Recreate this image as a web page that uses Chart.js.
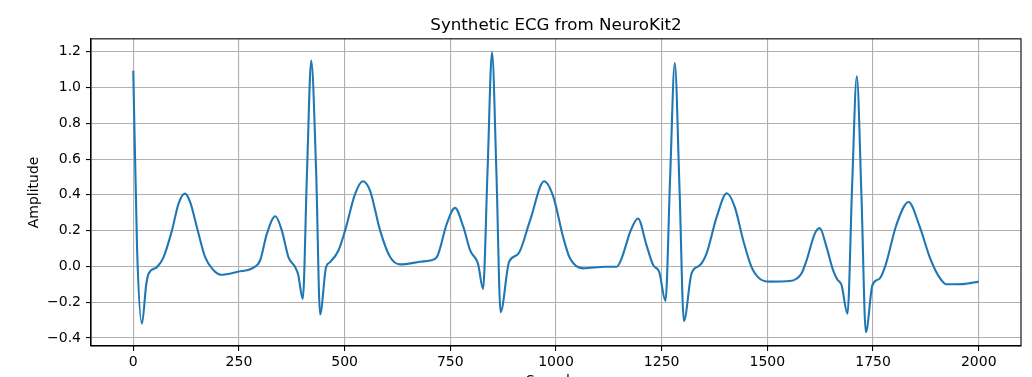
<!DOCTYPE html>
<html>
<head>
<meta charset="utf-8">
<script src="https://cdn.jsdelivr.net/npm/chart.js@4"></script>
<style>
  html, body { margin: 0; padding: 0; background: #fff; overflow: hidden; }
  #wrap { width: 1032px; height: 400px; position: relative; }
</style>
</head>
<body>
<div id="wrap"><canvas id="ecgChart"></canvas></div>
<script>
// samples and amplitude
const sampleX = [
    0, 9, 20.5, 30.5, 36.2, 56, 71.7, 91.4, 107, 122, 134.8, 150.5, 170, 190, 207, 247, 284.4, 300, 316, 336,
    351.5, 367, 383, 390, 401, 411, 421, 432.6, 442, 456, 465.7, 485.4, 501, 524.8, 543, 560, 584, 607.6, 631, 678.5,
    702, 718, 741.6, 761, 781, 797, 812.5, 816, 827.4, 838, 848.7, 859, 869, 889, 911, 938.5, 972, 993.6, 1017, 1033,
    1064.6, 1116, 1143.5, 1155.3, 1165.5, 1175, 1194, 1214, 1230, 1244, 1259, 1270, 1281, 1292, 1302.6, 1320.7, 1340.4, 1356, 1380, 1404,
    1423, 1443, 1462.6, 1482, 1506, 1553, 1569, 1581, 1592.7, 1612, 1624, 1640, 1655.6, 1666, 1675.4, 1689.6, 1700.5, 1711.6, 1722.5, 1733,
    1748.6, 1766, 1780, 1805, 1834, 1860, 1884, 1904, 1923.6, 1963, 2000
];
const amplitude = [
    1.094, 0.1, -0.32, -0.104, -0.041, -0.004, 0.052, 0.2, 0.35, 0.407, 0.358, 0.219, 0.052, -0.022, -0.047, -0.03, -0.007, 0.033, 0.182, 0.28,
    0.2, 0.052, -0.004, -0.045, -0.182, 0.53, 1.15, 0.53, -0.268, -0.005, 0.024, 0.089, 0.2, 0.405, 0.476, 0.424, 0.2, 0.052, 0.011, 0.026,
    0.033, 0.052, 0.238, 0.327, 0.219, 0.089, 0.033, 0.01, -0.126, 0.53, 1.197, 0.53, -0.256, 0.025, 0.071, 0.256, 0.476, 0.39, 0.163, 0.045,
    -0.011, -0.002, -0.002, 0.045, 0.119, 0.19, 0.268, 0.119, 0.007, -0.03, -0.193, 0.5, 1.137, 0.45, -0.305, -0.039, 0.006, 0.071, 0.275, 0.409,
    0.331, 0.145, -0.004, -0.069, -0.085, -0.082, -0.069, -0.039, 0.033, 0.182, 0.214, 0.108, -0.022, -0.075, -0.104, -0.264, 0.45, 1.063, 0.4, -0.368,
    -0.104, -0.067, 0.01, 0.23, 0.36, 0.225, 0.052, -0.05, -0.1, -0.099, -0.085
];
const xTicks = [0, 250, 500, 750, 1000, 1250, 1500, 1750, 2000];
const yTicks = [-0.4, -0.2, 0.0, 0.2, 0.4, 0.6, 0.8, 1.0, 1.2];

const points = sampleX.map((x, i) => ({ x: x, y: amplitude[i] }));
const font = { family: 'DejaVu Sans', size: 14 };

// black frame round the plot area, like matplotlib spines
const frame = {
    id: 'frame',
    afterDraw(chart) {
        const a = chart.chartArea;
        const c = chart.ctx;
        c.save();
        c.strokeStyle = '#000';
        c.lineWidth = 1.1;
        c.strokeRect(a.left, a.top, a.right - a.left, a.bottom - a.top);
        c.restore();
    }
};

new Chart(document.getElementById('ecgChart'), {
    type: 'line',
    data: {
        datasets: [{
            label: 'ECG',
            data: points,
            borderColor: '#1f77b4',
            borderWidth: 2.1,
            pointRadius: 0,
            cubicInterpolationMode: 'monotone',
            fill: false
        }]
    },
    options: {
        responsive: true,
        maintainAspectRatio: false,
        animation: false,
        layout: { padding: { left: 0, right: 11, top: 0, bottom: 0 } },
        plugins: {
            legend: { display: false },
            tooltip: { enabled: false },
            title: {
                display: true,
                fullSize: false,
                text: 'Synthetic ECG from NeuroKit2',
                color: '#000',
                font: { family: 'DejaVu Sans', size: 16.7, weight: 'normal' },
                padding: { top: 16, bottom: 2.8 }
            }
        },
        scales: {
            x: {
                type: 'linear',
                min: -100,
                max: 2100,
                afterBuildTicks: s => { s.ticks = xTicks.map(v => ({ value: v })); },
                afterFit: s => { s.height = 54; },
                ticks: { color: '#000', font: font, padding: 3, maxRotation: 0, callback: v => String(v) },
                grid: { color: '#b0b0b0', lineWidth: 1.1, tickLength: 5, tickColor: '#000', tickWidth: 1.1 },
                border: { display: true, color: '#000', width: 1.1 },
                title: { display: true, text: 'Samples', color: '#000', font: font, padding: { top: 4, bottom: 10.6 } }
            },
            y: {
                min: -0.445,
                max: 1.272,
                afterBuildTicks: s => { s.ticks = yTicks.map(v => ({ value: v })); },
                afterFit: s => { s.width = 91; },
                ticks: {
                    color: '#000', font: font, padding: 5,
                    callback: v => (v < 0 ? '\u2212' + Math.abs(v).toFixed(1) : v.toFixed(1))
                },
                grid: { color: '#b0b0b0', lineWidth: 1.1, tickLength: 5, tickColor: '#000', tickWidth: 1.1 },
                border: { display: true, color: '#000', width: 1.1 },
                title: { display: true, text: 'Amplitude', color: '#000', font: font, padding: { top: 25.6, bottom: 4 } }
            }
        }
    },
    plugins: [frame]
});
</script>
</body>
</html>
